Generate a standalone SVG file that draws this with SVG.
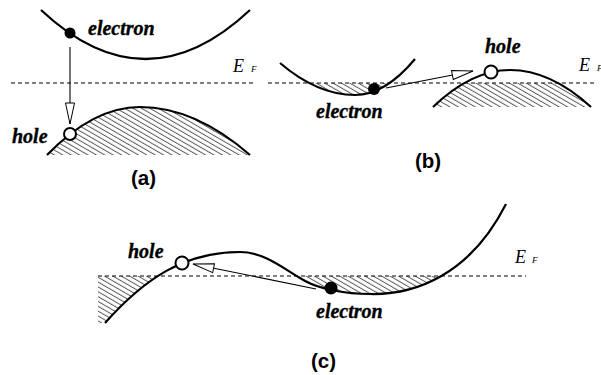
<svg xmlns="http://www.w3.org/2000/svg" width="601" height="375" viewBox="0 0 601 375">
<style>
.band{fill:none;stroke:#000;stroke-width:2.2}
.ef{fill:none;stroke:#000;stroke-width:1;stroke-dasharray:4,3}
.arr{fill:none;stroke:#000;stroke-width:1.1;marker-end:url(#head)}
.lbl{font-family:"Liberation Serif","Times New Roman",Times,serif;font-weight:bold;font-style:italic;font-size:20px;fill:#000;stroke:#000;stroke-width:0.35}
.E{font-family:"Liberation Serif","Times New Roman",Times,serif;font-style:italic;font-size:18px;fill:#000}
.Fs{font-family:"Liberation Serif","Times New Roman",Times,serif;font-style:italic;font-size:9px;fill:#000}
.cap{font-family:"Liberation Sans",Arial,sans-serif;font-weight:bold;font-size:20.5px;fill:#000}
.hatch{fill:url(#hp);stroke:none}
.el{fill:#000}
.ho{fill:#fff;stroke:#000;stroke-width:2}
</style>
<defs>
<pattern id="hp" patternUnits="userSpaceOnUse" width="8" height="4.2" patternTransform="rotate(30)">
<line x1="0" y1="2" x2="8" y2="2" stroke="#222" stroke-width="0.8"/>
</pattern>
<marker id="head" markerUnits="userSpaceOnUse" viewBox="-1 -1 24 12" refX="21" refY="5" markerWidth="24" markerHeight="12" orient="auto">
<path d="M0,0.5 L21,5 L0,9.5 Z" fill="#fff" stroke="#000" stroke-width="1"/>
</marker>
<clipPath id="belowB"><rect x="270" y="83" width="331" height="60"/></clipPath>
<clipPath id="belowC"><rect x="90" y="276" width="450" height="60"/></clipPath>
</defs>

<g id="panel-a">
<path class="hatch" d="M47,155 Q93.5,107 140,107 Q195,107 250,155 Z"/>
<path class="band" d="M41,10 Q145.5,108 250,10"/>
<path class="band" d="M47,155 Q93.5,107 140,107 Q195,107 250,155"/>
<line class="ef" x1="11" y1="83" x2="253" y2="83"/>
<text class="E" x="233" y="72">E</text><text class="Fs" x="251" y="72">F</text>
<text class="lbl" x="88" y="35">electron</text>
<text class="lbl" x="12" y="143">hole</text>
<text class="cap" x="131" y="185">(a)</text>
</g>

<g id="panel-b">
<path class="hatch" clip-path="url(#belowB)" d="M280,63 Q317.5,95 355,95 Q385,95 415,59 Z"/>
<path class="hatch" clip-path="url(#belowB)" d="M433,107 Q471.5,70 510,70 Q550.5,70 591,107 Z"/>
<path class="band" d="M280,63 Q317.5,95 355,95 Q385,95 415,59"/>
<path class="band" d="M433,107 Q471.5,70 510,70 Q550.5,70 591,107"/>
<line class="ef" x1="268" y1="83" x2="597" y2="83"/>
<text class="E" x="579" y="71">E</text><text class="Fs" x="597" y="71">F</text>
<text class="lbl" x="485" y="53">hole</text>
<text class="lbl" x="316" y="118">electron</text>
<text class="cap" x="415" y="168">(b)</text>
</g>

<g id="panel-c">
<path class="hatch" clip-path="url(#belowC)" d="M98,323 L105,323 C145,278 185,252 240,252 C265,252 285,270 305,281 C320,289 345,294 370,294 C415,295 470,275 506,204 L506,150 L98,150 Z"/>
<path class="band" d="M105,323 C145,278 185,252 240,252 C265,252 285,270 305,281 C320,289 345,294 370,294 C415,295 470,275 506,204"/>
<line class="ef" x1="98" y1="276" x2="526" y2="276"/>
<text class="E" x="515" y="263">E</text><text class="Fs" x="532" y="263">F</text>
<text class="lbl" x="128" y="258">hole</text>
<text class="lbl" x="316" y="318">electron</text>
<text class="cap" x="311" y="368">(c)</text>
</g>

<g id="connectors">
<line class="arr" x1="70" y1="47" x2="70" y2="124"/>
<line class="arr" x1="386" y1="88" x2="473" y2="71"/>
<line class="arr" x1="316" y1="289" x2="193" y2="264"/>
</g>

<g id="particles">
<circle id="electron-a" class="el" cx="70" cy="33" r="5.5"/>
<circle id="hole-a" class="ho" cx="70" cy="134" r="6"/>
<circle id="electron-b" class="el" cx="374" cy="89" r="6"/>
<circle id="hole-b" class="ho" cx="491" cy="72" r="6.5"/>
<circle id="electron-c" class="el" cx="331" cy="288" r="6.5"/>
<circle id="hole-c" class="ho" cx="182" cy="263" r="6.5"/>
</g>
</svg>
